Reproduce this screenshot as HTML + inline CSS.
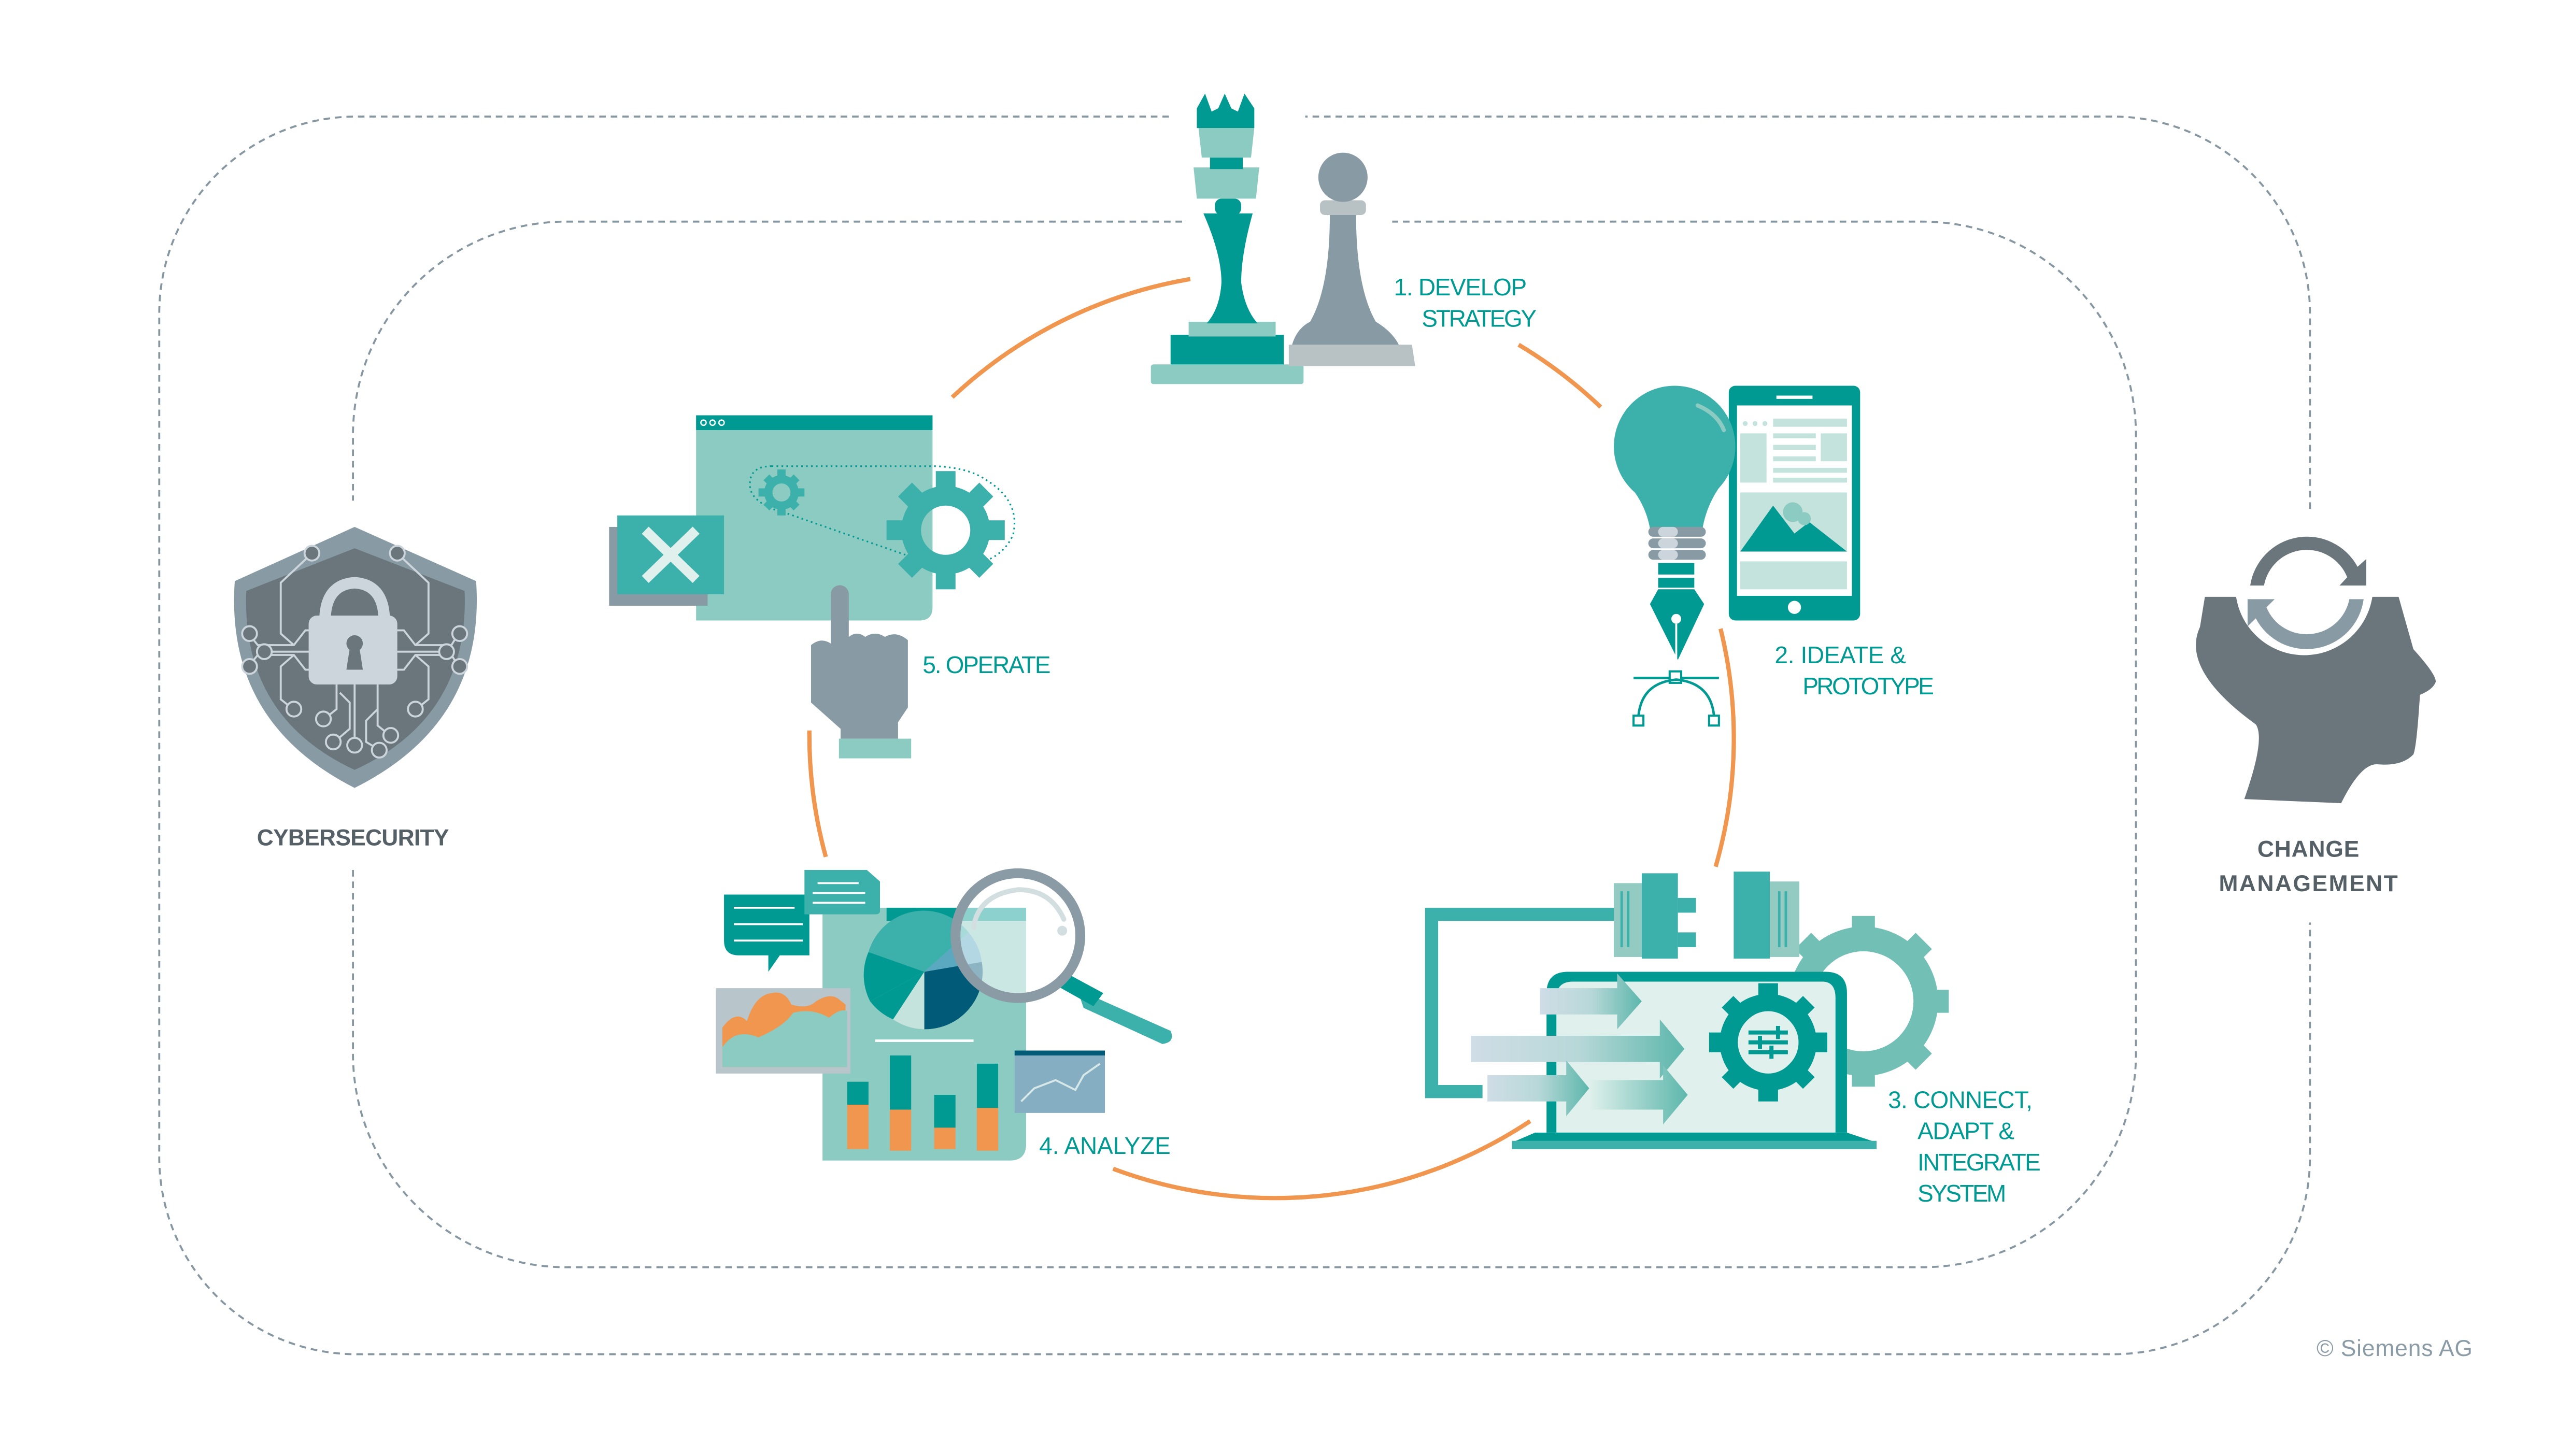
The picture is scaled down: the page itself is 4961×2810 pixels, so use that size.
<!DOCTYPE html>
<html><head><meta charset="utf-8"><style>
html,body{margin:0;padding:0;background:#fff;}
svg{display:block;}
text{font-family:"Liberation Sans",sans-serif;}
</style></head><body>
<svg width="4961" height="2810" viewBox="0 0 1566 887" preserveAspectRatio="none" xmlns="http://www.w3.org/2000/svg">
<rect width="1566" height="887" fill="#fff"/>
<g fill="none" stroke="#8797a2" stroke-width="1.2" stroke-dasharray="4 3">
<path d="M712,71 H217 A120,120 0 0 0 97,191 V705 A120,120 0 0 0 217,825 H1287 A120,120 0 0 0 1407,705 V562"/>
<path d="M1407,310 V191 A120,120 0 0 0 1287,71 H795"/>
<path d="M720,135 H345 A130,130 0 0 0 215,265 V305"/>
<path d="M215,530 V642 A130,130 0 0 0 345,772 H1171 A130,130 0 0 0 1301,642 V265 A130,130 0 0 0 1171,135 H848"/>
</g>
<g fill="none" stroke="#f0964f" stroke-width="2.6">
<path d="M580,242 A281,281 0 0 1 725,170"/>
<path d="M925,210 A281,281 0 0 1 975,248"/>
<path d="M1048,383 A281,281 0 0 1 1045,528"/>
<path d="M932,683 A281,281 0 0 1 678,712"/>
<path d="M503,522 A281,281 0 0 1 493,445"/>
</g>

<g>
<rect x="701" y="222" width="93" height="12" rx="1.5" fill="#8ccbc1"/>
<path d="M785,210 H860 L862,223 H785 Z" fill="#b8c2c5"/>
<path d="M810,131 H826 Q826,175 838,196 Q848,202 852,210 H787 Q790,200 798,196 Q810,175 810,131 Z" fill="#889ba5"/>
<rect x="804" y="122" width="28" height="9" rx="3" fill="#b8c2c5"/>
<circle cx="818" cy="108" r="15" fill="#889ba5"/>
<rect x="713" y="204" width="69" height="18" fill="#009a93"/>
<rect x="724" y="196" width="53" height="9" fill="#8ccbc1"/>
<path d="M733,130 H763 Q756,155 756,172 Q758,188 766,197 H735 Q743,188 744,172 Q744,155 733,130 Z" fill="#009a93"/>
<rect x="740" y="121" width="16" height="10" rx="4" fill="#009a93"/>
<path d="M727,102 H767 L765,121 H729 Z" fill="#8ccbc1"/>
<rect x="737" y="96" width="20" height="7" fill="#009a93"/>
<path d="M730,78 H764 L762,96 H732 Z" fill="#8ccbc1"/>
<path d="M729,78 V66 L734,57 L738,68 L742,66 L746,57 L750,66 L754,68 L758,57 L764,66 V78 Z" fill="#009a93"/>
</g>
<text x="849" y="180" fill="#009a93" font-size="14.5" textLength="81">1. DEVELOP</text>
<text x="866" y="199" fill="#009a93" font-size="14.5" textLength="70">STRATEGY</text>

<g>
<rect x="1053" y="235" width="80" height="143" rx="4" fill="#009a93"/>
<rect x="1058" y="247" width="70" height="116" fill="#fff"/>
<rect x="1082" y="241" width="22" height="2" fill="#fff"/>
<circle cx="1093" cy="370" r="4" fill="#fff"/>
<g fill="#c5e3dd">
<circle cx="1063" cy="258" r="1.5"/><circle cx="1069" cy="258" r="1.5"/><circle cx="1075" cy="258" r="1.5"/>
<rect x="1080" y="255" width="45" height="5"/>
<rect x="1060" y="264" width="16" height="30"/>
<rect x="1080" y="264" width="26" height="3"/>
<rect x="1080" y="271" width="26" height="3"/>
<rect x="1080" y="278" width="26" height="3"/>
<rect x="1109" y="264" width="16" height="17"/>
<rect x="1080" y="285" width="45" height="3"/>
<rect x="1080" y="291" width="45" height="3"/>
<rect x="1060" y="300" width="65" height="36"/>
<rect x="1060" y="342" width="65" height="17"/>
</g>
<path d="M1060,336 L1080,308 L1093,325 L1102,318 L1125,336 Z" fill="#009a93"/>
<circle cx="1092" cy="312" r="6" fill="#8ccbc1"/><circle cx="1099" cy="316" r="4" fill="#8ccbc1"/>
<circle cx="1020" cy="272" r="37" fill="#3cb0aa"/>
<path d="M989,292 Q1002,305 1005,322 H1037 Q1040,305 1051,292 Z" fill="#3cb0aa"/>
<path d="M1034,247 Q1046,252 1050,262" stroke="#8ccbc1" stroke-width="2.5" fill="none" stroke-linecap="round"/>
<g fill="#889ba5">
<rect x="1004" y="321" width="35" height="6" rx="3"/>
<rect x="1004" y="328" width="35" height="6" rx="3"/>
<rect x="1004" y="335" width="35" height="6" rx="3"/>
</g>
<g fill="#cdd5dc"><rect x="1010" y="321" width="12" height="6" rx="3"/><rect x="1010" y="328" width="12" height="6" rx="3"/><rect x="1010" y="335" width="12" height="6" rx="3"/></g>
<rect x="1010" y="343" width="22" height="7" fill="#009a93"/>
<rect x="1010" y="352" width="22" height="6" fill="#009a93"/>
<path d="M1010,359 H1032 L1038,368 L1022,402 L1005,368 Z" fill="#009a93"/>
<circle cx="1021" cy="377" r="3" fill="#fff"/>
<line x1="1021" y1="380" x2="1021" y2="401" stroke="#fff" stroke-width="1.2"/>
<line x1="995" y1="413" x2="1047" y2="413" stroke="#009a93" stroke-width="1.5"/>
<rect x="1017" y="409" width="7" height="7" fill="#fff" stroke="#009a93" stroke-width="1.3"/>
<path d="M998,436 Q1000,416 1021,414 Q1042,416 1044,436" fill="none" stroke="#009a93" stroke-width="1.5"/>
<rect x="995" y="436" width="6" height="6" fill="#fff" stroke="#009a93" stroke-width="1.3"/>
<rect x="1041" y="436" width="6" height="6" fill="#fff" stroke="#009a93" stroke-width="1.3"/>
</g>
<text x="1081" y="404" fill="#009a93" font-size="14.5" textLength="80">2. IDEATE &amp;</text>
<text x="1098" y="423" fill="#009a93" font-size="14.5" textLength="80">PROTOTYPE</text>

<defs>
<linearGradient id="ag" x1="0" x2="1" y1="0" y2="0"><stop offset="0" stop-color="#cfdde6"/><stop offset="0.5" stop-color="#b8d8d8"/><stop offset="1" stop-color="#5db7ac"/></linearGradient>
<linearGradient id="ag2" x1="0" x2="1"><stop offset="0" stop-color="#e0f0ec"/><stop offset="1" stop-color="#5db7ac"/></linearGradient>
</defs>
<g>
<path d="M985,557 H872 V665 H903" fill="none" stroke="#3cb0aa" stroke-width="8"/>
<g transform="translate(1135,610)" fill="#72bfb6">
<circle r="38" fill="none" stroke="#72bfb6" stroke-width="15"/>
<g><rect x="-7" y="-52" width="14" height="16"/><rect x="-7" y="36" width="14" height="16"/><rect x="36" y="-7" width="16" height="14"/><rect x="-52" y="-7" width="16" height="14"/>
<g transform="rotate(45)"><rect x="-7" y="-52" width="14" height="16"/><rect x="-7" y="36" width="14" height="16"/><rect x="36" y="-7" width="16" height="14"/><rect x="-52" y="-7" width="16" height="14"/></g></g>
</g>
<rect x="983" y="538" width="18" height="45" fill="#93cbc3"/>
<rect x="987" y="543" width="1.5" height="34" fill="#3cb0aa"/><rect x="991" y="543" width="1.5" height="34" fill="#3cb0aa"/>
<rect x="1000" y="532" width="22" height="52" fill="#3cb0aa"/>
<rect x="1022" y="547" width="11" height="9" fill="#3cb0aa"/><rect x="1022" y="568" width="11" height="9" fill="#3cb0aa"/>
<rect x="1056" y="531" width="22" height="53" fill="#3cb0aa"/>
<rect x="1078" y="537" width="18" height="46" fill="#93cbc3"/>
<rect x="1083" y="543" width="1.5" height="34" fill="#3cb0aa"/><rect x="1087" y="543" width="1.5" height="34" fill="#3cb0aa"/>
<path d="M942,690 V605 Q942,592 955,592 H1112 Q1125,592 1125,605 V690 Z" fill="#009a93"/>
<path d="M948,690 V608 Q948,598 958,598 H1110 Q1118,598 1118,608 V690 Z" fill="#e0f0ec"/>
<path d="M935,690 H1125 L1143,696 V700 H921 V696 Z" fill="#009a93"/>
<rect x="921" y="695" width="222" height="5" fill="#3cb0aa"/>
<path d="M938,602 H985 V593 L1000,610 L985,627 V618 H938 Z" fill="url(#ag)"/>
<path d="M896,631 H1011 V621 L1026,639 L1011,657 V647 H896 Z" fill="url(#ag)"/>
<path d="M906,655 H954 V646 L968,663 L954,680 V671 H906 Z" fill="url(#ag)"/>
<path d="M968,658 H1013 V649 L1028,667 L1013,685 V676 H968 Z" fill="url(#ag2)"/>
<g transform="translate(1077,635)">
<circle r="24" fill="none" stroke="#009a93" stroke-width="11"/>
<g fill="#009a93"><rect x="-6" y="-36" width="12" height="12"/><rect x="-6" y="24" width="12" height="12"/><rect x="24" y="-6" width="12" height="12"/><rect x="-36" y="-6" width="12" height="12"/>
<g transform="rotate(45)"><rect x="-5" y="-35" width="10" height="11"/><rect x="-5" y="24" width="10" height="11"/><rect x="24" y="-5" width="11" height="10"/><rect x="-35" y="-5" width="11" height="10"/></g></g>
<ellipse rx="18" ry="19" fill="#e0f0ec"/>
<g stroke="#009a93" stroke-width="2.5"><line x1="-12" y1="-6" x2="12" y2="-6"/><line x1="-12" y1="0" x2="12" y2="0"/><line x1="-12" y1="6" x2="12" y2="6"/>
<line x1="6" y1="-10" x2="6" y2="-2"/><line x1="-5" y1="-4" x2="-5" y2="4"/><line x1="2" y1="2" x2="2" y2="10"/></g>
</g>
</g>
<text x="1150" y="675" fill="#009a93" font-size="14.5" textLength="88">3. CONNECT,</text>
<text x="1168" y="694" fill="#009a93" font-size="14.5" textLength="59">ADAPT &amp;</text>
<text x="1168" y="713" fill="#009a93" font-size="14.5" textLength="75">INTEGRATE</text>
<text x="1168" y="732" fill="#009a93" font-size="14.5" textLength="54">SYSTEM</text>

<g>
<path d="M501,553 H625 V697 Q625,707 615,707 H501 Z" fill="#8ccbc1"/>
<rect x="540" y="553" width="85" height="8" fill="#009a93"/>
<path d="M441,545 H493 V582 H475 L468,592 L468,582 H450 Q441,582 441,573 Z" fill="#009a93"/>
<g stroke="#fff" stroke-width="1.2"><line x1="447" y1="553" x2="484" y2="553"/><line x1="447" y1="563" x2="489" y2="563"/><line x1="447" y1="573" x2="489" y2="573"/></g>
<path d="M490,530 H528 L536,537 V555 Q536,557 533,557 H490 Z" fill="#3cb0aa"/>
<g stroke="#fff" stroke-width="1.2"><line x1="498" y1="538" x2="523" y2="538"/><line x1="495" y1="544" x2="527" y2="544"/><line x1="495" y1="550" x2="527" y2="550"/></g>
<rect x="436" y="602" width="82" height="52" fill="#b8c5ca"/>
<path d="M440,626 Q448,615 455,622 Q460,606 470,605 Q478,603 482,612 Q492,615 497,610 Q505,605 510,608 L515,612 V650 H440 Z" fill="#f0964f"/>
<path d="M440,638 Q448,626 462,632 Q478,625 483,617 Q495,614 505,620 Q512,614 516,616 V650 H440 Z" fill="#8ccbc1"/>
<path d="M563,592 L529,580 A35,35 0 0 1 590,568 Z" fill="#3cb0aa"/>
<path d="M563,592 L530,610 A35,35 0 0 1 529,580 Z" fill="#009a93"/>
<path d="M563,592 L544,621 A35,35 0 0 1 530,610 Z" fill="#009a93"/>
<path d="M563,592 L563,627 A35,35 0 0 1 544,621 Z" fill="#c5e3dd"/>
<path d="M563,592 L598,586 A35,35 0 0 1 563,627 Z" fill="#005a78"/>
<path d="M563,592 L590,568 A35,35 0 0 1 598,586 Z" fill="#5aa9c0"/>
<line x1="533" y1="634" x2="593" y2="634" stroke="#fff" stroke-width="1.5"/>
<rect x="516" y="659" width="13" height="14" fill="#009a93"/><rect x="516" y="673" width="13" height="27" fill="#f0964f"/>
<rect x="542" y="643" width="13" height="33" fill="#009a93"/><rect x="542" y="676" width="13" height="25" fill="#f0964f"/>
<rect x="569" y="667" width="13" height="20" fill="#009a93"/><rect x="569" y="687" width="13" height="13" fill="#f0964f"/>
<rect x="595" y="648" width="13" height="27" fill="#009a93"/><rect x="595" y="675" width="13" height="26" fill="#f0964f"/>
<rect x="618" y="640" width="55" height="38" fill="#85aec2"/>
<rect x="618" y="640" width="55" height="3" fill="#005a78"/>
<polyline points="622,671 630,663 643,658 655,664 660,655 670,648" fill="none" stroke="#d6e8e8" stroke-width="1.2"/>
<path d="M656,602 L668,608 L713,628 Q716,635 708,636 L660,614 Z" fill="#3cb0aa"/>
<path d="M648,592 L672,605 L666,613 L641,599 Z" fill="#009a93"/>
<circle cx="620" cy="570" r="38" fill="#ffffff" fill-opacity="0.55" stroke="#8a9ba5" stroke-width="6"/>
<path d="M593,565 Q596,545 620,542 Q640,542 648,560" fill="none" stroke="#d2dee0" stroke-width="3" stroke-linecap="round"/>
<circle cx="647" cy="567" r="3" fill="#d2dee0"/>
</g>
<text x="633" y="703" fill="#009a93" font-size="14.5" textLength="80">4. ANALYZE</text>

<g>
<path d="M424,253 H568 V370 Q568,378 560,378 H424 Z" fill="#8ccbc1"/>
<rect x="424" y="253" width="144" height="9" fill="#009a93"/>
<g fill="none" stroke="#fff" stroke-width="0.8"><circle cx="428.5" cy="257.5" r="1.6"/><circle cx="434" cy="257.5" r="1.6"/><circle cx="439.5" cy="257.5" r="1.6"/></g>
<rect x="371" y="321" width="60" height="48" fill="#889ba5"/>
<rect x="376" y="314" width="65" height="48" fill="#3cb0aa"/>
<g stroke="#e0f0ec" stroke-width="6"><line x1="393" y1="323" x2="424" y2="353"/><line x1="424" y1="323" x2="393" y2="353"/></g>
<path d="M470,284 Q455,284 457,298 Q460,308 480,313 L560,341 Q605,352 617,326 Q622,305 600,292 Q590,285 570,284 Z" fill="none" stroke="#009a93" stroke-width="1" stroke-dasharray="1 2"/>
<g transform="translate(476,300)" fill="#3cb0aa">
<circle r="8" fill="none" stroke="#3cb0aa" stroke-width="5"/>
<rect x="-2.5" y="-14" width="5" height="5"/><rect x="-2.5" y="9" width="5" height="5"/><rect x="9" y="-2.5" width="5" height="5"/><rect x="-14" y="-2.5" width="5" height="5"/>
<g transform="rotate(45)"><rect x="-2.5" y="-13" width="5" height="4"/><rect x="-2.5" y="9" width="5" height="4"/><rect x="9" y="-2.5" width="4" height="5"/><rect x="-13" y="-2.5" width="4" height="5"/></g>
</g>
<g transform="translate(576,323)" fill="#3cb0aa">
<circle r="21" fill="none" stroke="#3cb0aa" stroke-width="12"/>
<rect x="-6" y="-36" width="12" height="10"/><rect x="-6" y="26" width="12" height="10"/><rect x="26" y="-6" width="10" height="12"/><rect x="-36" y="-6" width="10" height="12"/>
<g transform="rotate(45)"><rect x="-6" y="-35" width="12" height="10"/><rect x="-6" y="25" width="12" height="10"/><rect x="25" y="-6" width="10" height="12"/><rect x="-35" y="-6" width="10" height="12"/></g>
</g>
<path d="M506,362 A5.5,5.5 0 0 1 517,362 V388 Q522,384 527,388 Q533,384 539,388 Q546,384 553,390 V431 L547,440 V450 H512 V444 L494,428 V393 Q500,388 506,392 Z" fill="#889ba5"/>
<rect x="511" y="450" width="44" height="12" fill="#8ccbc1"/>
</g>
<text x="562" y="410" fill="#009a93" font-size="14.5" textLength="78">5. OPERATE</text>

<g>
<path d="M216,321 L290,354 Q296,440 216,480 Q137,440 143,354 Z" fill="#889ba5"/>
<path d="M216,334 L283,360 Q286,437 216,469 Q147,437 150,360 Z" fill="#6a767c"/>
<g fill="none" stroke="#cdd5dc" stroke-width="1.2">
<path d="M190,384 H186 L179,393 H157 L153,388"/><path d="M179,393 L171,386 V355 L188,339"/>
<path d="M190,408 H186 L179,399 H157 L153,404"/><path d="M179,399 L171,406 V426 L176,430"/>
<path d="M190,397 H165"/>
<path d="M242,384 H246 L253,393 H275 L278,388"/><path d="M253,393 L261,386 V355 L244,339"/>
<path d="M242,408 H246 L253,399 H275 L278,404"/><path d="M253,399 L261,406 V426 L256,430"/>
<path d="M242,397 H268"/>
<path d="M216,416 V450"/><path d="M205,416 V432 L200,436"/><path d="M207,422 L213,428 V444 L206,450"/>
<path d="M230,416 V442 L235,446"/><path d="M230,432 L223,439 V452 L228,455"/>
</g>
<g fill="#6a767c" stroke="#cdd5dc" stroke-width="1.2">
<circle cx="190" cy="337" r="4.5"/><circle cx="242" cy="337" r="4.5"/>
<circle cx="152" cy="386" r="4.5"/><circle cx="280" cy="386" r="4.5"/>
<circle cx="161" cy="397" r="4.5"/><circle cx="272" cy="397" r="4.5"/>
<circle cx="152" cy="406" r="4.5"/><circle cx="280" cy="406" r="4.5"/>
<circle cx="179" cy="432" r="4.5"/><circle cx="253" cy="432" r="4.5"/>
<circle cx="197" cy="438" r="4.5"/><circle cx="203" cy="452" r="4.5"/>
<circle cx="216" cy="454" r="4.5"/><circle cx="238" cy="448" r="4.5"/><circle cx="231" cy="457" r="4.5"/>
</g>
<path d="M198,376 Q199,356 216,355 Q233,356 234,376" fill="none" stroke="#cdd5dc" stroke-width="7"/>
<rect x="188" y="375" width="54" height="42" rx="5" fill="#cdd5dc"/>
<circle cx="216" cy="392" r="5" fill="#6a767c"/>
<path d="M213,395 H219 L221,408 H211 Z" fill="#6a767c"/>
</g>
<text x="215" y="515" text-anchor="middle" fill="#555f66" font-size="14" font-weight="bold" textLength="117">CYBERSECURITY</text>

<g>
<path d="M1343,363.6 H1362 A42,42 0 0 0 1445,363.6 H1461 L1470,395.5 Q1484,411 1483.6,415.4 Q1482,420 1474,423.3 Q1472,455 1470,459.6 Q1463,467 1448,465.6 Q1438,465 1426,489.3 L1367,486.8 Q1380,450 1374,441.3 Q1328,408 1340,382 Z" fill="#6a767c"/>
<path d="M1370.6,356.7 A35,35 0 0 1 1436,345.3 L1441.3,340.5 V356.7 H1425 L1429.7,351.7 A26.5,26.5 0 0 0 1379,356.7 Z" fill="#6a767c"/>
<path d="M1439.7,365 A35,35 0 0 1 1374,376.7 L1369,381.6 V365 H1385.5 L1380.5,370 A26.5,26.5 0 0 0 1431,365 Z" fill="#889ba5"/>
</g>
<text x="1406" y="522" text-anchor="middle" fill="#555f66" font-size="14" font-weight="bold" textLength="62">CHANGE</text>
<text x="1406" y="543" text-anchor="middle" fill="#555f66" font-size="14" font-weight="bold" textLength="109">MANAGEMENT</text>
<text x="1411" y="826" fill="#8a9ba5" font-size="14" textLength="95">© Siemens AG</text>
</svg>
</body></html>
